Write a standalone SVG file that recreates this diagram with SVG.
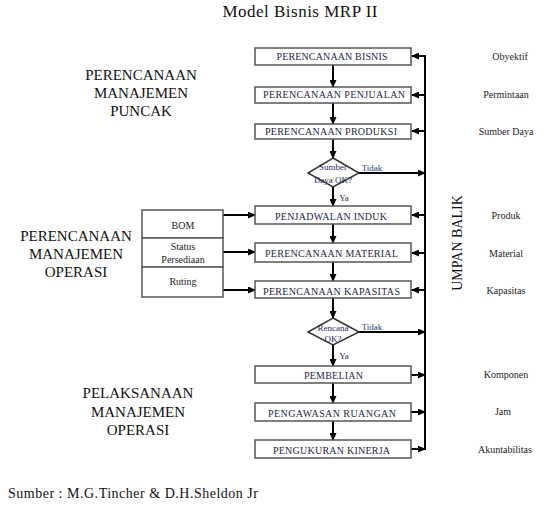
<svg xmlns="http://www.w3.org/2000/svg" width="546" height="509" viewBox="0 0 546 509">
<defs>
<marker id="ah" markerWidth="8" markerHeight="7" refX="7" refY="3.5" orient="auto" markerUnits="userSpaceOnUse">
<path d="M0,0 L8,3.5 L0,7 Z" fill="#000"/>
</marker>
<style>
.box{fill:#fff;stroke:#555;stroke-width:1.5}
.bt{font-family:"Liberation Serif",serif;font-size:10px;fill:#1f1f3f;text-anchor:middle}
.rt{font-family:"Liberation Serif",serif;font-size:10px;fill:#222;text-anchor:middle}
.big{font-family:"Liberation Serif",serif;font-size:15px;fill:#111;text-anchor:middle}
.sm{font-family:"Liberation Serif",serif;font-size:9px;fill:#2a2a5a;text-anchor:middle}
.tdk{fill:#2a3a8a}
.ln{stroke:#000;stroke-width:2;fill:none}
.arr{stroke:#000;stroke-width:2;fill:none;marker-end:url(#ah)}
.dia{fill:#fff;stroke:#333;stroke-width:1.5}
</style>
</defs>
<rect width="546" height="509" fill="#fff"/>
<text x="300" y="17" font-family="Liberation Serif,serif" font-size="17" fill="#111" text-anchor="middle" textLength="155">Model Bisnis MRP II</text>

<g id="labels-left">
<text class="big" x="141" y="80">PERENCANAAN</text>
<text class="big" x="141" y="98">MANAJEMEN</text>
<text class="big" x="141" y="116">PUNCAK</text>
<text class="big" x="76" y="241">PERENCANAAN</text>
<text class="big" x="76" y="259">MANAJEMEN</text>
<text class="big" x="76" y="277">OPERASI</text>
<text class="big" x="138" y="398">PELAKSANAAN</text>
<text class="big" x="138" y="417">MANAJEMEN</text>
<text class="big" x="138" y="435">OPERASI</text>
</g>

<g id="connectors">
<line class="ln" x1="425" y1="55" x2="425" y2="450"/>
<line class="arr" x1="333" y1="65" x2="333" y2="87"/>
<line class="arr" x1="333" y1="103" x2="333" y2="124"/>
<line class="arr" x1="333" y1="139" x2="333" y2="158"/>
<line class="arr" x1="333" y1="187" x2="333" y2="206"/>
<line class="arr" x1="333" y1="224" x2="333" y2="243"/>
<line class="arr" x1="333" y1="262" x2="333" y2="281"/>
<line class="arr" x1="333" y1="298" x2="333" y2="318"/>
<line class="arr" x1="333" y1="345" x2="333" y2="366"/>
<line class="arr" x1="333" y1="383" x2="333" y2="403"/>
<line class="arr" x1="333" y1="421" x2="333" y2="440"/>
<line class="arr" x1="425" y1="56" x2="412" y2="56"/>
<line class="arr" x1="425" y1="95" x2="412" y2="95"/>
<line class="arr" x1="425" y1="131" x2="412" y2="131"/>
<line class="arr" x1="425" y1="215" x2="412" y2="215"/>
<line class="arr" x1="425" y1="253" x2="412" y2="253"/>
<line class="arr" x1="425" y1="290" x2="412" y2="290"/>
<line class="arr" x1="359" y1="173" x2="425" y2="173"/>
<line class="arr" x1="359" y1="332" x2="425" y2="332"/>
<line class="arr" x1="411" y1="375" x2="425" y2="375"/>
<line class="arr" x1="411" y1="412" x2="425" y2="412"/>
<line class="arr" x1="411" y1="449" x2="425" y2="449"/>
<line class="arr" x1="223" y1="215" x2="255" y2="215"/>
<line class="arr" x1="223" y1="252" x2="255" y2="252"/>
<line class="arr" x1="223" y1="290" x2="255" y2="290"/>
</g>

<g id="n-bisnis"><rect class="box" x="255" y="48" width="156" height="17"/><text class="bt" x="332" y="60" textLength="111">PERENCANAAN BISNIS</text></g>
<g id="n-penjualan"><rect class="box" x="255" y="87" width="156" height="16"/><text class="bt" x="334" y="98" textLength="142">PERENCANAAN PENJUALAN</text></g>
<g id="n-produksi"><rect class="box" x="255" y="124" width="156" height="15"/><text class="bt" x="331" y="135" textLength="132">PERENCANAAN PRODUKSI</text></g>
<g id="d-sumber"><polygon class="dia" points="333,158 359,173 333,187 308,173"/><text class="sm" x="333" y="170">Sumber</text><text class="sm" x="333" y="183">Daya OK?</text></g>
<g id="n-jadwal"><rect class="box" x="255" y="206" width="156" height="18"/><text class="bt" x="331" y="220" textLength="112">PENJADWALAN INDUK</text></g>
<g id="n-material"><rect class="box" x="255" y="243" width="156" height="19"/><text class="bt" x="331.5" y="257" textLength="133">PERENCANAAN MATERIAL</text></g>
<g id="n-kapasitas"><rect class="box" x="255" y="281" width="156" height="17"/><text class="bt" x="331.5" y="295" textLength="137">PERENCANAAN KAPASITAS</text></g>
<g id="d-rencana"><polygon class="dia" points="333,318 359,332 333,345 308,332"/><text class="sm" x="333" y="331">Rencana</text><text class="sm" x="333" y="342">OK?</text></g>
<g id="n-pembelian"><rect class="box" x="255" y="366" width="156" height="17"/><text class="bt" x="333.5" y="379" textLength="59">PEMBELIAN</text></g>
<g id="n-pengawasan"><rect class="box" x="255" y="403" width="156" height="18"/><text class="bt" x="332" y="417" textLength="128">PENGAWASAN RUANGAN</text></g>
<g id="n-pengukuran"><rect class="box" x="255" y="440" width="156" height="18"/><text class="bt" x="331.5" y="454" textLength="117">PENGUKURAN KINERJA</text></g>

<g id="n-bom"><rect class="box" x="142" y="210" width="81" height="28"/><text class="rt" x="183" y="229">BOM</text></g>
<g id="n-status"><rect class="box" x="142" y="238" width="81" height="29"/><text class="rt" x="183" y="250">Status</text><text class="rt" x="183" y="263">Persediaan</text></g>
<g id="n-ruting"><rect class="box" x="142" y="267" width="81" height="30"/><text class="rt" x="183" y="285">Ruting</text></g>

<g id="edge-labels">
<text class="sm tdk" x="372" y="171">Tidak</text>
<text class="sm" x="344" y="201">Ya</text>
<text class="sm tdk" x="372" y="330">Tidak</text>
<text class="sm" x="344" y="359">Ya</text>
</g>

<g id="labels-right">
<text class="rt" x="510" y="60">Obyektif</text>
<text class="rt" x="506" y="98">Permintaan</text>
<text class="rt" x="506" y="135">Sumber Daya</text>
<text class="rt" x="506" y="219">Produk</text>
<text class="rt" x="506" y="257">Material</text>
<text class="rt" x="506" y="294">Kapasitas</text>
<text class="rt" x="506" y="378">Komponen</text>
<text class="rt" x="503" y="415">Jam</text>
<text class="rt" x="505" y="453">Akuntabilitas</text>
<text x="0" y="0" transform="translate(462,243) rotate(-90)" font-family="Liberation Serif,serif" font-size="14" fill="#111" text-anchor="middle">UMPAN BALIK</text>
</g>

<text x="8" y="498" font-family="Liberation Serif,serif" font-size="14" fill="#111" textLength="250">Sumber : M.G.Tincher &amp; D.H.Sheldon Jr</text>
</svg>
